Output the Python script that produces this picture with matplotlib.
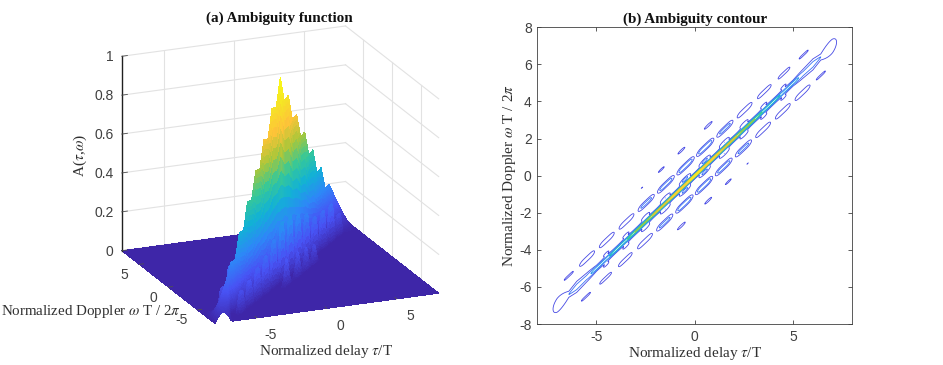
import numpy as np
import matplotlib
matplotlib.use('Agg')
import matplotlib.pyplot as plt
from matplotlib.colors import LinearSegmentedColormap
from mpl_toolkits.mplot3d import proj3d

# values
ridge_delay = [0, 0.5, 1, 1.5, 2, 2.5, 3, 3.5, 4, 4.5, 5, 5.5, 6, 7, 8]
ridge_height = [1.0, 0.86, 0.875, 0.73, 0.745, 0.61, 0.62, 0.485, 0.495, 0.36, 0.37, 0.245, 0.25, 0.125, 0.0]
width_delay = [0, 4, 5, 5.5, 6, 6.4, 7, 8]
ridge_width = [0.08, 0.09, 0.1, 0.18, 0.22, 0.14, 0.55, 0.9]

# first sidelobes, below the ridge (the ones above are the mirror image)
lobe1_delay = [-5.53, -4.53, -3.53, -2.53, -1.53, -0.53, 0.47, 1.47, 2.47, 3.47, 4.47, 5.47, 6.4]
lobe1_height = [0.11, 0.13, 0.16, 0.19, 0.24, 0.30, 0.30, 0.27, 0.24, 0.19, 0.19, 0.19, 0.11]
lobe2_delay = [-0.68, 0.68, 1.7, 2.68]
lobe2_height = [0.14, 0.13, 0.12, 0.102]
near_delay = [-4.5, -3.5, -2.5, -1.5, -0.5, 0.5, 1.5, 2.5, 3.5, 4.5]
near_height = [0.12, 0.13, 0.16, 0.2, 0.25, 0.25, 0.2, 0.16, 0.13, 0.12]

z_ticks = [0, 0.2, 0.4, 0.6, 0.8, 1]
z_tick_labels = ['0', '0.2', '0.4', '0.6', '0.8', '1']
delay_ticks = [-5, 0, 5]
doppler_ticks = [-8, -6, -4, -2, 0, 2, 4, 6, 8]

parula = LinearSegmentedColormap.from_list('parula', [
    (0.2422, 0.1504, 0.6603), (0.2810, 0.3228, 0.9579), (0.1786, 0.5289, 0.9682),
    (0.0689, 0.6948, 0.8394), (0.2161, 0.7843, 0.5923), (0.6720, 0.7793, 0.2227),
    (0.9970, 0.7659, 0.2199), (0.9626, 0.8900, 0.1500), (0.9769, 0.9839, 0.0805)])

SERIF = 'Liberation Serif'
SANS = 'Liberation Sans'
plt.rcParams['mathtext.fontset'] = 'stix'
plt.rcParams['axes.unicode_minus'] = False
W, H = 943, 365
TICK_COLOR = '#404040'
LABEL_COLOR = '#303030'


def lobe(t, off, d, o, h, a, s_off, power):
    return h * np.exp(-(np.abs(t - d) / a)**power - (off - o)**2 / (2 * s_off**2))


def ambiguity(t, w):
    off = w - t
    ridge = np.interp(np.abs(t), ridge_delay, ridge_height)
    sigma = np.interp(np.abs(t), width_delay, ridge_width)
    z = ridge * np.exp(-off**2 / (2 * sigma**2))
    for d, h in zip(lobe1_delay, lobe1_height):
        z += lobe(t, off, d, -1.0, h, 0.42, 0.12, 4) + lobe(t, off, -d, 1.0, h, 0.42, 0.12, 4)
    for d, h in zip(lobe2_delay, lobe2_height):
        z += lobe(t, off, d, -2.03, h, 0.35, 0.08, 2) + lobe(t, off, -d, 2.03, h, 0.35, 0.08, 2)
    for d, h in zip(near_delay, near_height):
        z += lobe(t, off, d, -0.3, h, 0.3, 0.09, 2) + lobe(t, off, -d, 0.3, h, 0.3, 0.09, 2)
    return z


fig = plt.figure(figsize=(W / 100, H / 100), dpi=100)

# (a) surface, on a grid sheared along the ridge so its narrow walls stay smooth
S = 388
cx, cy = 275, 180
ax = fig.add_axes([(cx - S / 2) / W, 1 - (cy + S / 2) / H, S / W, S / H],
                  projection='3d', computed_zorder=False)
ax.set_proj_type('ortho')
ax.view_init(elev=19, azim=-112.6)
ax.set_box_aspect((1, 1, 0.8485), zoom=1.0)
ax.set_xlim(-8, 8, view_margin=0)
ax.set_ylim(-8, 8, view_margin=0)
ax.set_zlim(0, 1, view_margin=0)
ax.set_xticks([])
ax.set_yticks([])
ax.set_zticks([])
ax.set_axis_off()
ax.patch.set_alpha(0)


def text3d(x, y, z, label, **kw):
    x2, y2, _ = proj3d.proj_transform(x, y, z, ax.get_proj())
    ax.text2D(x2, y2, label, transform=ax.transData, va='center', fontsize=10,
              family=SANS, color=TICK_COLOR, **kw)


grid = dict(color='#e2e2e2', lw=0.8, zorder=1)
for z in z_ticks:
    ax.plot([-8, 8], [8, 8], [z, z], **grid)
    ax.plot([8, 8], [8, -8], [z, z], **grid)
for t in delay_ticks:
    ax.plot([t, t], [8, 8], [0, 1], **grid)
    ax.plot([8, 8], [t, t], [0, 1], **grid)

tau_s = np.linspace(-8, 8, 401)
off_s = np.concatenate([np.linspace(-16, -2.5, 12)[:-1], np.linspace(-2.5, -0.4, 70)[:-1],
                        np.linspace(-0.4, 0.4, 81), np.linspace(0.4, 2.5, 70)[1:],
                        np.linspace(2.5, 16, 12)[1:]])
Ts, Os = np.meshgrid(tau_s, off_s)
Ds = np.clip(Ts + Os, -8, 8)
ax.plot_surface(Ts, Ds, ambiguity(Ts, Ds), cmap=parula, vmin=0, vmax=1, rstride=1, cstride=1,
                linewidth=0, antialiased=False, shade=False, zorder=2)

ax.plot([-8, -8], [8, 8], [0, 1], color='#202020', lw=1.0, zorder=3)
for z, lab in zip(z_ticks, z_tick_labels):
    ax.plot([-8, -7.6], [8, 8], [z, z], color='#505050', lw=0.6, zorder=3)
    text3d(-8.6, 8, z, lab, ha='right')
for t in delay_ticks:
    ax.plot([t, t], [-8, -7.7], [0, 0], color='#505050', lw=0.6, zorder=3)
    text3d(t - 0.55, -11.6, 0, str(t), ha='center')
    ax.plot([-8, -7.7], [t, t], [0, 0], color='#505050', lw=0.6, zorder=3)
    text3d(-9.75, t - 1.55, 0, str(t), ha='center')

fig.text(279 / W, 1 - 18 / H, '(a) Ambiguity function', ha='center', va='center',
         family=SERIF, weight='bold', fontsize=10.9, color='#111111')
fig.text(326 / W, 1 - 351 / H, r'Normalized delay $\tau$/T', ha='center', va='center',
         family=SERIF, fontsize=11, color=LABEL_COLOR)
fig.text(91 / W, 1 - 311 / H, r'Normalized Doppler $\omega$ T / 2$\pi$', ha='center', va='center',
         family=SERIF, fontsize=10.8, color=LABEL_COLOR)
fig.text(80 / W, 1 - 155 / H, r'A($\tau$,$\omega$)', ha='center', va='center', rotation=90,
         family=SERIF, fontsize=11, color=LABEL_COLOR)

# (b) contour
tau = np.linspace(-8, 8, 641)
T, D = np.meshgrid(tau, tau)
ax2 = fig.add_axes([537.3 / W, 1 - 324 / H, 315 / W, 296.7 / H])
ax2.contour(T, D, ambiguity(T, D), levels=np.arange(0.1, 1.0, 0.1), cmap=parula, vmin=0, vmax=1, linewidths=0.6)
ax2.set_xlim(-8, 8)
ax2.set_ylim(-8, 8)
ax2.set_xticks(delay_ticks)
ax2.set_yticks(doppler_ticks)
ax2.tick_params(direction='in', top=True, right=True, length=3, width=0.6, labelsize=10,
                colors=TICK_COLOR)
ax2.tick_params(axis='x', pad=4)
ax2.tick_params(axis='y', pad=4)
for lab in ax2.get_xticklabels() + ax2.get_yticklabels():
    lab.set_family(SANS)
for sp in ax2.spines.values():
    sp.set_linewidth(0.6)
    sp.set_color(TICK_COLOR)
ax2.set_title('(b) Ambiguity contour', family=SERIF, weight='bold', fontsize=10.9, color='#111111', pad=3)
ax2.set_xlabel(r'Normalized delay $\tau$/T', family=SERIF, fontsize=11, color=LABEL_COLOR, labelpad=1)
ax2.set_ylabel(r'Normalized Doppler $\omega$ T / 2$\pi$', family=SERIF, fontsize=11, color=LABEL_COLOR, labelpad=1)

fig.savefig('out.png', dpi=100)
